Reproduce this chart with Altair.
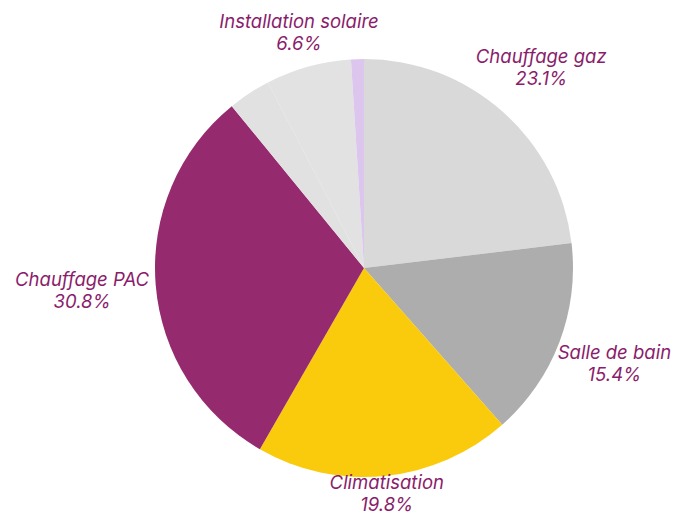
import altair as alt
import pandas as pd

categories = ["Chauffage gaz", "Salle de bain", "Climatisation", "Chauffage PAC",
              "Autres", "Installation solaire", "Divers"]
values = [23.1, 15.4, 19.8, 30.8, 3.3, 6.6, 1.0]
labels = ["Chauffage gaz", "Salle de bain", "Climatisation", "Chauffage PAC",
          "", "Installation solaire", ""]
colors = ["#d9d9d9", "#adadad", "#f9cb0c", "#952a6e", "#e1e1e1", "#e2e2e2", "#dcc6ee"]

df = pd.DataFrame({
    "cat": categories,
    "value": values,
    "label": labels,
    "order": list(range(len(categories))),
})

CX, CY, R = 356, 260, 209
LABEL_COLOR = "#8a1d6b"
FONT = "Inter"

base = alt.Chart(df)

arcs = base.mark_arc(outerRadius=R).encode(
    theta=alt.Theta("value:Q", stack=True),
    order=alt.Order("order:Q"),
    color=alt.Color("cat:N", scale=alt.Scale(domain=categories, range=colors), legend=None),
    x=alt.value(CX),
    y=alt.value(CY),
)

lab = base.transform_window(
    cum="sum(value)", sort=[alt.SortField("order")], frame=[None, 0]
).transform_joinaggregate(
    total="sum(value)"
).transform_calculate(
    mid="(datum.cum - datum.value/2) / datum.total * 2 * PI",
    pct="format(datum.value, '.1f') + '%'",
).transform_calculate(
    r="220 + max(cos(datum.mid), 0) * 7 + max(-cos(datum.mid), 0) * 1"
      " + abs(sin(datum.mid)) * 63"
      " - 36 * max(-cos(datum.mid), 0) * pow(max(sin(datum.mid), 0), 2)"
).transform_filter("datum.label != ''")

txt_style = dict(font=FONT, fontStyle="italic", fontSize=18.5, color=LABEL_COLOR)

name_txt = lab.mark_text(dy=-11, **txt_style).encode(
    theta=alt.Theta("mid:Q", scale=None),
    radius=alt.Radius("r:Q", scale=None),
    text=alt.Text("label:N"),
    x=alt.value(CX),
    y=alt.value(CY),
)
pct_txt = lab.mark_text(dy=11, **txt_style).encode(
    theta=alt.Theta("mid:Q", scale=None),
    radius=alt.Radius("r:Q", scale=None),
    text=alt.Text("pct:N"),
    x=alt.value(CX),
    y=alt.value(CY),
)

chart = alt.layer(arcs, name_txt, pct_txt).properties(
    width=666, height=507, padding=0, autosize=alt.AutoSizeParams(type="none")
).configure_view(stroke=None)

chart.save("out.html", embed_options={"renderer": "svg", "actions": False})
